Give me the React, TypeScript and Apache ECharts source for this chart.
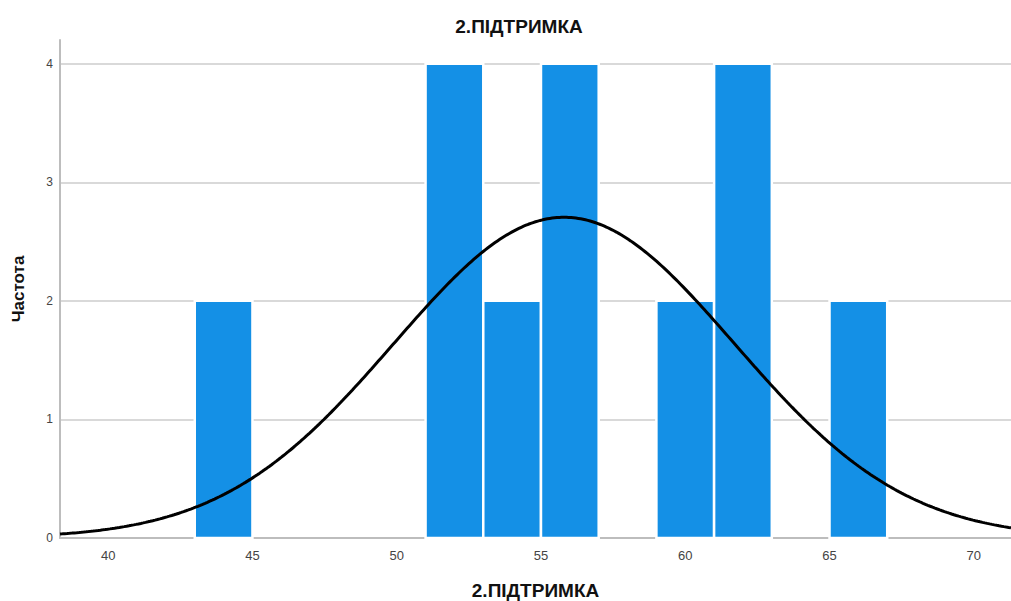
import React, { useEffect, useRef } from "react";
import * as echarts from "echarts";

const binStarts = [43, 51, 53, 55, 59, 61, 65];
const binEnds = [45, 53, 55, 57, 61, 63, 67];
const counts = [2, 4, 2, 4, 2, 4, 2];
const xTicks = [40, 45, 50, 55, 60, 65, 70];
const yTicks = [0, 1, 2, 3, 4];
const curveMean = 55.8;
const curveSd = 5.9;
const binWidth = 2;
const xMin = 38.33;
const xMax = 71.29;
const titleText = "2.ПІДТРИМКА";
const xName = "2.ПІДТРИМКА";
const yName = "Частота";

export default function App() {
  const ref = useRef<HTMLDivElement>(null);
  useEffect(() => {
    if (!ref.current) return;
    const chart = echarts.init(ref.current, undefined, { renderer: "svg" });
    const n = counts.reduce((a, b) => a + b, 0);
    const curve: number[][] = [];
    for (let i = 0; i <= 400; i++) {
      const x = xMin + ((xMax - xMin) * i) / 400;
      const z = (x - curveMean) / curveSd;
      const y = (n * binWidth) / (curveSd * Math.sqrt(2 * Math.PI)) * Math.exp(-0.5 * z * z);
      curve.push([x, y]);
    }
    const bars = binStarts.map((s, i) => [s, binEnds[i], counts[i]]);
    const font = "'Liberation Sans', Arial, sans-serif";
    chart.setOption({
      animation: false,
      backgroundColor: "#ffffff",
      title: {
        text: titleText,
        left: 514,
        top: 12,
        textAlign: "center",
        textStyle: { fontFamily: font, fontSize: 19, fontWeight: "bold", color: "#111" },
      },
      grid: { left: 60, right: 0, top: 40, bottom: 63, containLabel: false, outerBoundsMode: "none" },
      xAxis: {
        type: "value",
        min: xMin,
        max: xMax,
        name: xName,
        nameLocation: "middle",
        nameGap: 43,
        nameTextStyle: { fontFamily: font, fontSize: 19, fontWeight: "bold", color: "#111" },
        axisLine: { show: true, onZero: false, lineStyle: { color: "#bdbdbd", width: 2 } },
        axisTick: { show: false, customValues: xTicks },
        splitLine: { show: false },
        axisLabel: {
          fontFamily: font,
          fontSize: 13,
          color: "#444",
          margin: 11,
          customValues: xTicks,
        },
      },
      yAxis: {
        type: "value",
        min: 0,
        max: 4.2,
        interval: 1,
        name: yName,
        nameLocation: "middle",
        nameGap: 33,
        nameTextStyle: { fontFamily: font, fontSize: 17, fontWeight: "bold", color: "#111" },
        axisLine: { show: true, lineStyle: { color: "#bdbdbd", width: 2 } },
        axisTick: { show: false },
        splitLine: { show: true, showMaxLine: false, lineStyle: { color: "#d9d9d9", width: 2 } },
        axisLabel: {
          fontFamily: font,
          fontSize: 12,
          color: "#444",
          margin: 7,
          showMaxLabel: false,
          formatter: (v: number) => (yTicks.includes(v) ? String(v) : ""),
        },
      },
      series: [
        {
          type: "custom",
          data: bars,
          encode: { x: [0, 1], y: 2 },
          renderItem: (params: any, api: any) => {
            const p0 = api.coord([api.value(0), api.value(2)]);
            const p1 = api.coord([api.value(1), 0]);
            return {
              type: "rect",
              shape: { x: p0[0], y: p0[1], width: p1[0] - p0[0], height: p1[1] - p0[1] },
              style: { fill: "#1490e6", stroke: "#ffffff", lineWidth: 2.5 },
            };
          },
          z: 2,
        },
        {
          type: "line",
          data: curve,
          showSymbol: false,
          symbol: "none",
          lineStyle: { color: "#000", width: 3 },
          z: 3,
        },
      ],
    });
    return () => chart.dispose();
  }, []);
  return (
    <div
      ref={ref}
      style={{ position: "fixed", left: 0, top: 0, width: 1011, height: 601 }}
    />
  );
}
